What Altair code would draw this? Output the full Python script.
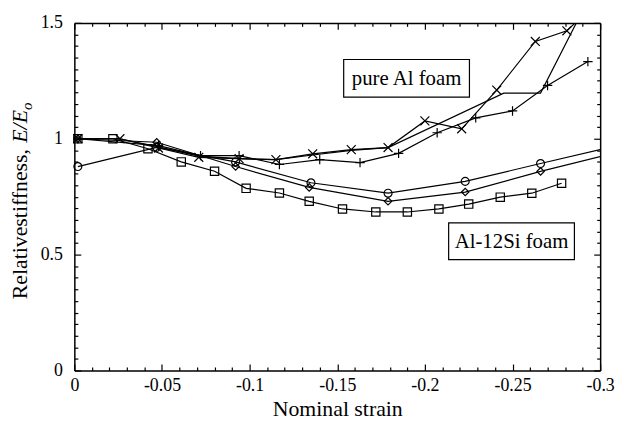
import altair as alt
import pandas as pd

# ---------------- data ----------------
# pure Al foam, "x" markers
cross_x = [-0.002, -0.026, -0.048, -0.071, -0.094, -0.115, -0.136, -0.158, -0.179, -0.200, -0.221, -0.241, -0.263, -0.281, -0.290]
cross_y = [1.0, 1.0, 0.96, 0.92, 0.914, 0.91, 0.935, 0.953, 0.962, 1.077, 1.043, 1.21, 1.42, 1.466, 1.53]
# pure Al foam, "+" markers
plus_x = [-0.002, -0.048, -0.072, -0.094, -0.117, -0.140, -0.163, -0.185, -0.207, -0.229, -0.250, -0.270, -0.293]
plus_y = [1.0, 0.97, 0.927, 0.927, 0.889, 0.91, 0.897, 0.937, 1.026, 1.09, 1.12, 1.23, 1.333]
# pure Al foam, third specimen (line only)
third_x = [-0.002, -0.026, -0.048, -0.071, -0.094, -0.115, -0.136, -0.158, -0.179, -0.245, -0.266, -0.290]
third_y = [1.0, 1.0, 0.965, 0.925, 0.914, 0.91, 0.93, 0.95, 0.962, 1.197, 1.197, 1.553]
# Al-12Si foam, circles
circ_x = [-0.002, -0.047, -0.092, -0.135, -0.179, -0.223, -0.266, -0.310]
circ_y = [0.88, 0.963, 0.90, 0.81, 0.765, 0.816, 0.893, 0.971]
# Al-12Si foam, diamonds
diam_x = [-0.002, -0.047, -0.092, -0.134, -0.179, -0.223, -0.266, -0.310]
diam_y = [1.0, 0.985, 0.88, 0.79, 0.73, 0.77, 0.859, 0.942]
# Al-12Si foam, squares
sq_x = [-0.002, -0.022, -0.042, -0.061, -0.080, -0.098, -0.117, -0.134, -0.153, -0.172, -0.190, -0.208, -0.225, -0.243, -0.261, -0.278]
sq_y = [1.0, 1.0, 0.957, 0.90, 0.86, 0.786, 0.766, 0.73, 0.697, 0.684, 0.684, 0.697, 0.718, 0.748, 0.765, 0.808]

x_major = [0, -0.05, -0.1, -0.15, -0.2, -0.25, -0.3]
x_minor = [round(-0.01 * i, 2) for i in range(31) if i % 5]
y_major = [0, 0.5, 1, 1.5]
y_minor = [round(0.05 * i, 2) for i in range(31) if i % 10]

x_title = "Nominal strain"
y_title_parts = ["Relativestiffness, ", "E/E", "o"]
box_labels = ["pure Al foam", "Al-12Si foam"]

# ---------------- build table ----------------
rows = []
for name, xs, ys in [("cross", cross_x, cross_y), ("plus", plus_x, plus_y),
                     ("third", third_x, third_y), ("circle", circ_x, circ_y),
                     ("diamond", diam_x, diam_y), ("square", sq_x, sq_y)]:
    for i, (a, b) in enumerate(zip(xs, ys)):
        rows.append({"series": name, "strain": a, "stiffness": b, "idx": i})
df = pd.DataFrame(rows)

FONT = "Liberation Serif"
xs = alt.Scale(domain=[-0.3, 0], reverse=True, nice=False, zero=False)
ys = alt.Scale(domain=[0, 1.5], nice=False, zero=False)

lab_expr = "'' + datum.value"


def axis_layer(xaxis, yaxis):
    return alt.Chart(df).mark_point(opacity=0).encode(
        x=alt.X("strain:Q", scale=xs, axis=xaxis),
        y=alt.Y("stiffness:Q", scale=ys, axis=yaxis),
    )


def tick_axis(orient, values, size):
    return alt.Axis(orient=orient, values=values, offset=-size, tickSize=size,
                    tickColor="black", tickWidth=1.2, domain=False, labels=False,
                    grid=False, title=None)


def frame_axis(orient):
    return alt.Axis(orient=orient, ticks=False, labels=False, domain=True,
                    domainColor="black", domainWidth=1.5, grid=False, title=None)


x_label_axis = alt.Axis(orient="bottom", values=x_major, ticks=False, domain=True,
                        domainColor="black", domainWidth=1.5, grid=False,
                        labelExpr=lab_expr, labelFont=FONT, labelFontSize=18,
                        labelColor="black", labelPadding=6, labelFlush=False,
                        labelOverlap=False, title=x_title, titleFont=FONT,
                        titleFontSize=22, titleFontWeight="normal",
                        titleColor="black", titlePadding=4)
y_label_axis = alt.Axis(orient="left", values=y_major, ticks=False, domain=True,
                        domainColor="black", domainWidth=1.5, grid=False,
                        labelExpr=lab_expr, labelFont=FONT, labelFontSize=18,
                        labelColor="black", labelPadding=12, labelFlush=False,
                        labelOverlap=False, title=None)

axes = [
    axis_layer(x_label_axis, y_label_axis),
    axis_layer(frame_axis("top"), frame_axis("right")),
    axis_layer(tick_axis("bottom", x_major, 6.5), tick_axis("left", y_major, 6.5)),
    axis_layer(tick_axis("bottom", x_minor, 3.5), tick_axis("left", y_minor, 3.5)),
    axis_layer(tick_axis("top", x_major, 6.5), tick_axis("right", y_major, 6.5)),
    axis_layer(tick_axis("top", x_minor, 3.5), tick_axis("right", y_minor, 3.5)),
]

X = alt.X("strain:Q", scale=xs, axis=None)
Y = alt.Y("stiffness:Q", scale=ys, axis=None)

lines = alt.Chart(df).mark_line(clip=True, color="black", strokeWidth=1.2).encode(
    x=X, y=Y, detail="series:N", order="idx:Q")

marker_specs = [
    ("cross", "M-1,-1L1,1M-1,1L1,-1", 81),
    ("plus", "M-1,0L1,0M0,-1L0,1", 90),
    ("circle", "circle", 64),
    ("diamond", "diamond", 56),
    ("square", "square", 70),
]
points = []
for name, shape, size in marker_specs:
    points.append(
        alt.Chart(df).transform_filter(
            f"datum.series == '{name}' && datum.strain >= -0.3 && datum.stiffness <= 1.5"
        ).mark_point(shape=shape, size=size, filled=False, color="black",
                     strokeWidth=1.2, opacity=1).encode(x=X, y=Y)
    )

# annotation boxes
boxes_df = pd.DataFrame({"label": box_labels,
                         "x1": [272, 378], "x2": [399, 505],
                         "y1": [37, 202], "y2": [75, 239]})
box_layers = []
for i in range(2):
    d = boxes_df.iloc[[i]]
    r = d.iloc[0]
    box_layers.append(alt.Chart(d).mark_rect(fill="white", stroke="black", strokeWidth=1.2).encode(
        x=alt.value(float(r.x1)), x2=alt.value(float(r.x2)),
        y=alt.value(float(r.y1)), y2=alt.value(float(r.y2))))
    box_layers.append(alt.Chart(d).mark_text(font=FONT, fontSize=21, color="black",
                                             align="center", baseline="middle").encode(
        text="label:N",
        x=alt.value(float((r.x1 + r.x2) / 2)), y=alt.value(float((r.y1 + r.y2) / 2) + 1)))

# y-axis title in pieces (roman + italic + subscript)
yt = []
yt.append(alt.Chart(pd.DataFrame({"t": [y_title_parts[0]]})).mark_text(
    font=FONT, fontSize=22, color="black", angle=270, align="left", baseline="alphabetic"
).encode(text="t:N", x=alt.value(-48), y=alt.value(279)))
yt.append(alt.Chart(pd.DataFrame({"t": [y_title_parts[1]]})).mark_text(
    font=FONT, fontSize=22, fontStyle="italic", color="black", angle=270, align="left",
    baseline="alphabetic").encode(text="t:N", x=alt.value(-48), y=alt.value(121)))
yt.append(alt.Chart(pd.DataFrame({"t": [y_title_parts[2]]})).mark_text(
    font=FONT, fontSize=15, fontStyle="italic", color="black", angle=270, align="left",
    baseline="alphabetic").encode(text="t:N", x=alt.value(-43), y=alt.value(88)))

chart = alt.layer(*axes, lines, *points, *box_layers, *yt).resolve_axis(
    x="independent", y="independent"
).properties(
    width=531, height=351,
    padding={"left": 67, "top": 13, "right": 16, "bottom": 49},
    autosize=alt.AutoSizeParams(type="none"),
).configure_view(stroke=None)

chart.save("out.html", embed_options={"renderer": "svg", "actions": False})
